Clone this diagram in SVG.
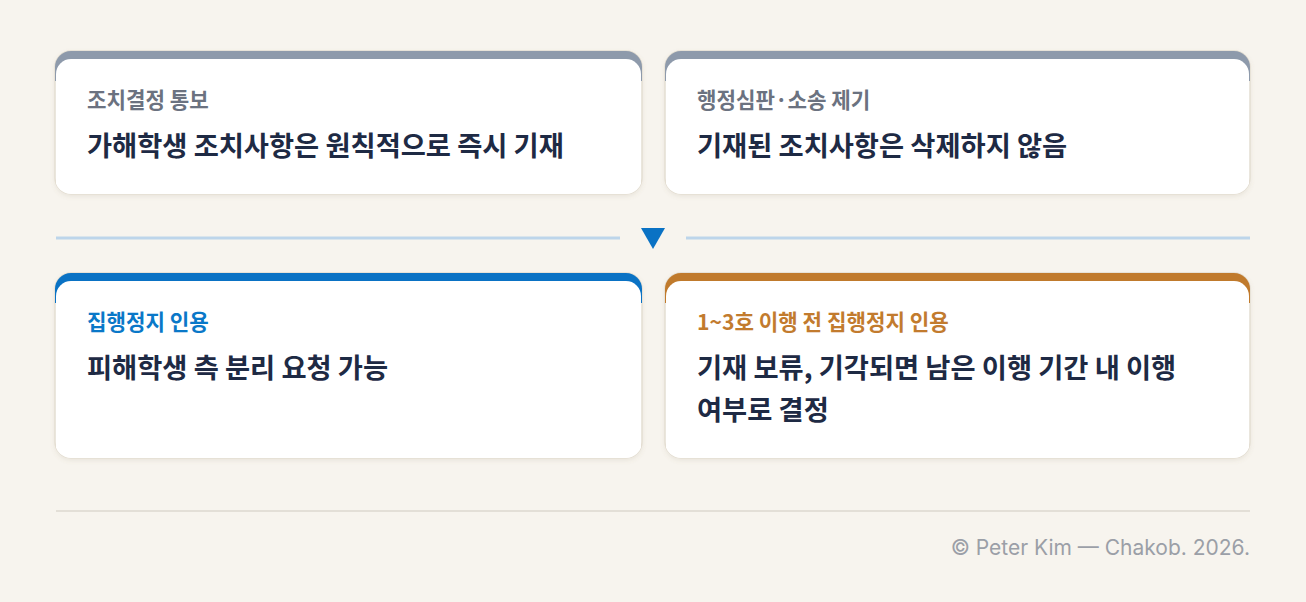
<svg xmlns="http://www.w3.org/2000/svg" width="1306" height="602" viewBox="0 0 1306 602">
<defs>
<style>
.card{fill:#ffffff;stroke:#e4ded2;stroke-width:1.5}
.lbl{font-family:"Noto Sans CJK KR","Noto Sans",sans-serif;font-weight:700;font-size:21.2px}
.main{font-family:"Noto Sans CJK KR","Noto Sans",sans-serif;font-weight:700;font-size:27.3px;fill:#1e2a44}
.foot{font-family:Inter,"Liberation Sans",sans-serif;font-size:21px;fill:#9b9fa7}
</style>
<filter id="sh" x="-5%" y="-10%" width="110%" height="125%">
<feDropShadow dx="0" dy="2" stdDeviation="2" flood-color="#8a7a5a" flood-opacity="0.12"/>
</filter>
<clipPath id="c1"><rect x="55" y="51" width="587" height="143" rx="16"/></clipPath>
<clipPath id="c2"><rect x="665" y="51" width="585" height="143" rx="16"/></clipPath>
<clipPath id="c3"><rect x="55" y="273" width="587" height="185" rx="16"/></clipPath>
<clipPath id="c4"><rect x="665" y="273" width="585" height="185" rx="16"/></clipPath>
</defs>
<rect width="1306" height="602" fill="#f7f4ee"/>

<g id="node-notice">
<rect class="card" x="55" y="51" width="587" height="143" rx="16" filter="url(#sh)"/>
<g clip-path="url(#c1)"><rect x="55" y="51" width="587" height="30" fill="#8e9aab"/><rect x="56" y="59" width="585" height="140" rx="15" fill="#fff"/></g>
<text class="lbl" x="87" y="108" fill="#6b7280">조치결정 통보</text>
<text class="main" x="87" y="156">가해학생 조치사항은 원칙적으로 즉시 기재</text>
</g>

<g id="node-appeal">
<rect class="card" x="665" y="51" width="585" height="143" rx="16" filter="url(#sh)"/>
<g clip-path="url(#c2)"><rect x="665" y="51" width="585" height="30" fill="#8e9aab"/><rect x="666" y="59" width="583" height="140" rx="15" fill="#fff"/></g>
<text class="lbl" x="697" y="108" fill="#6b7280">행정심판·소송 제기</text>
<text class="main" x="697" y="156">기재된 조치사항은 삭제하지 않음</text>
</g>

<g id="connectors">
<line x1="56" y1="238" x2="620" y2="238" stroke="#bdd5ea" stroke-width="3"/>
<line x1="686" y1="238" x2="1250" y2="238" stroke="#bdd5ea" stroke-width="3"/>
<polygon points="641,228 665,228 653,249" fill="#0a72c4"/>
</g>

<g id="node-stay">
<rect class="card" x="55" y="273" width="587" height="185" rx="16" filter="url(#sh)"/>
<g clip-path="url(#c3)"><rect x="55" y="273" width="587" height="30" fill="#0a72c4"/><rect x="56" y="281" width="585" height="182" rx="15" fill="#fff"/></g>
<text class="lbl" x="87" y="330" fill="#0a78c8">집행정지 인용</text>
<text class="main" x="87" y="378">피해학생 측 분리 요청 가능</text>
</g>

<g id="node-stay-before">
<rect class="card" x="665" y="273" width="585" height="185" rx="16" filter="url(#sh)"/>
<g clip-path="url(#c4)"><rect x="665" y="273" width="585" height="30" fill="#c07a2c"/><rect x="666" y="281" width="583" height="182" rx="15" fill="#fff"/></g>
<text class="lbl" x="697" y="330" fill="#c27b2e">1~3호 이행 전 집행정지 인용</text>
<text class="main" x="697" y="378">기재 보류, 기각되면 남은 이행 기간 내 이행</text>
<text class="main" x="697" y="420">여부로 결정</text>
</g>

<line x1="56" y1="511" x2="1250" y2="511" stroke="#ddd8cf" stroke-width="1.5"/>
<text class="foot" x="1250" y="555" text-anchor="end">© Peter Kim — Chakob. 2026.</text>
</svg>
